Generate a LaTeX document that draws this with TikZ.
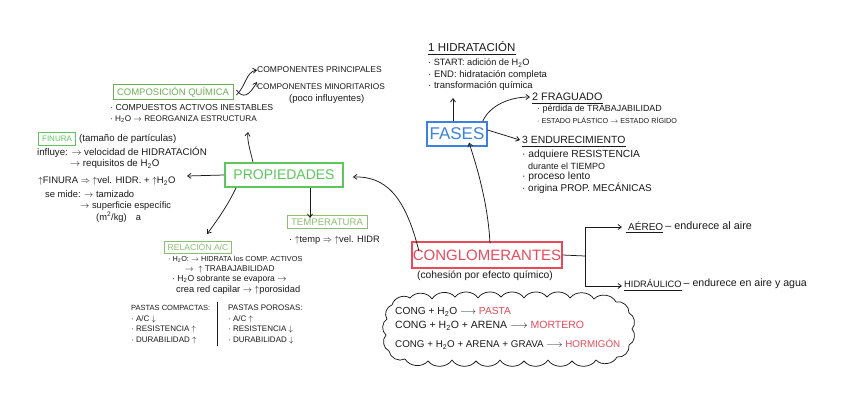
\documentclass[tikz,border=0pt]{standalone}
\usepackage{fontspec}
\setmainfont{Liberation Sans}
\usetikzlibrary{arrows.meta}
\definecolor{gA}{HTML}{6FAE55}
\definecolor{gB}{HTML}{5CC85C}
\definecolor{gC}{HTML}{8CBF72}
\definecolor{bA}{HTML}{3B82E0}
\definecolor{rA}{HTML}{E84A5A}
\definecolor{ink}{HTML}{1A1A1A}
\newcommand\fsz[1]{\fontsize{#1}{#1}\selectfont}
\tikzset{
  tx/.style={anchor=west,inner sep=0pt,text=ink},
  gbox/.style={draw=#1,text=#1,line width=0.9pt,inner sep=0pt,minimum height=13pt},
  arr/.style={-{Straight Barb[length=3.5pt,width=5pt]},line width=0.75pt,draw=ink},
  ln/.style={line width=0.75pt,draw=ink},
  puff/.style={bend left=55},
}
\begin{document}
\begin{tikzpicture}[x=1pt,y=-1pt]
\useasboundingbox[fill=white] (0,0) rectangle (848,402);

% ---- Composicion quimica
\node[gbox=gA,minimum width=120pt,minimum height=15pt,font=\fsz{9.5}] (comp) at (173,92) {COMPOSICIÓN QUÍMICA};
\node[tx,font=\fsz{8.5}] (cp1) at (257,70) {COMPONENTES PRINCIPALES};
\node[tx,font=\fsz{8.3}] (cp2) at (257,87) {COMPONENTES MINORITARIOS};
\node[tx,font=\fsz{9.5}] (cp3) at (289,99) {(poco influyentes)};
\draw[arr] ([xshift=3pt,yshift=-3pt]comp.east) .. controls (246,86) and (246,72) .. (cp1.west);
\draw[arr] ([xshift=3pt,yshift=2pt]comp.east) .. controls (243,99) and (249,96) .. ([yshift=5pt]cp2.west);
\node[tx,font=\fsz{8.7}] (cb1) at (110,108) {· COMPUESTOS ACTIVOS INESTABLES};
\node[tx,font=\fsz{8.2}] (cb2) at (110,119) {· H\textsubscript{2}O $\rightarrow$ REORGANIZA ESTRUCTURA};

% ---- Propiedades
\node[draw=gB,text=gB,line width=1.8pt,minimum width=118pt,minimum height=24pt,inner sep=0pt,font=\fsz{14}] (prop) at (284,175) {PROPIEDADES};
\coordinate (cbt) at (248,132);
\draw[arr] ([xshift=-31pt]prop.north) .. controls (250,150) and (247,140) .. (cbt);

% ---- Finura
\node[gbox=gB,minimum width=37pt,minimum height=13pt,font=\fsz{8}] (fin) at (57,139) {FINURA};
\node[tx,font=\fsz{9.7}] (f0) at (79,139) {(tamaño de partículas)};
\node[tx,font=\fsz{9.7}] (f1) at (37,152) {influye: $\rightarrow$ velocidad de HIDRATACIÓN};
\node[tx,font=\fsz{9.7}] (f2) at (70,164) {$\rightarrow$ requisitos de H\textsubscript{2}O};
\node[tx,font=\fsz{9.5}] (f3) at (38,181) {$\uparrow$FINURA $\Rightarrow$ $\uparrow$vel. HIDR. + $\uparrow$H\textsubscript{2}O};
\node[tx,font=\fsz{9.4}] (f4) at (45,194) {se mide: $\rightarrow$ tamizado};
\node[tx,font=\fsz{9.3}] (f5) at (80,206) {$\rightarrow$ superficie específic};
\node[tx,font=\fsz{9.3}] (f6) at (96,217) {(m\textsuperscript{2}/kg)\quad a};
\coordinate (fin_in) at (187,176);
\draw[arr] (prop.west) -- (fin_in);

% ---- Temperatura
\node[gbox=gC,minimum width=80pt,minimum height=13pt,font=\fsz{9.6}] (temp) at (327,222) {TEMPERATURA};
\draw[arr] ([xshift=26pt]prop.south) -- ([xshift=-17pt,yshift=-3pt]temp.north);
\node[tx,font=\fsz{9.3}] (t1) at (289,240) {· $\uparrow$temp $\Rightarrow$ $\uparrow$vel. HIDR};

% ---- Relacion A/C
\node[gbox=gC,minimum width=67pt,minimum height=12pt,font=\fsz{8.6}] (rel) at (198,247) {RELACIÓN A/C};
\coordinate (relin) at (207,234);
\draw[arr] ([xshift=-48pt]prop.south) .. controls (228,205) and (216,222) .. (relin);
\node[tx,font=\fsz{7.3}] (r1) at (168,259) {· H\textsubscript{2}O: $\rightarrow$ HIDRATA los COMP. ACTIVOS};
\node[tx,font=\fsz{8.3}] (r2) at (185,269.5) {$\rightarrow$\ \ $\uparrow$ TRABAJABILIDAD};
\node[tx,font=\fsz{8.6}] (r3) at (172,279.5) {· H\textsubscript{2}O sobrante se evapora $\rightarrow$};
\node[tx,font=\fsz{9.3}] (r4) at (176,290) {crea red capilar $\rightarrow$ $\uparrow$porosidad};

\node[tx,font=\fsz{7.5}] (pc0) at (131,308) {PASTAS COMPACTAS:};
\node[tx,font=\fsz{8}] (pc1) at (131,319) {· A/C $\downarrow$};
\node[tx,font=\fsz{8}] (pc2) at (131,329) {· RESISTENCIA $\uparrow$};
\node[tx,font=\fsz{8}] (pc3) at (131,340) {· DURABILIDAD $\uparrow$};
\node[tx,font=\fsz{8}] (pp0) at (228,308) {PASTAS POROSAS:};
\node[tx,font=\fsz{8}] (pp1) at (228,319) {· A/C $\uparrow$};
\node[tx,font=\fsz{8}] (pp2) at (228,329) {· RESISTENCIA $\downarrow$};
\node[tx,font=\fsz{8}] (pp3) at (228,340) {· DURABILIDAD $\downarrow$};
\coordinate (dv1) at (217,302);
\coordinate (dv2) at (217,346);
\draw[ln] (dv1) -- (dv2);

% ---- Fases
\node[draw=bA,text=bA,line width=1.2pt,minimum width=60pt,minimum height=24pt,inner sep=0pt,font=\fsz{17}] (fases) at (457,134) {FASES};
\node[tx,font=\fsz{11.5}] (h1) at (428,47) {1 HIDRATACIÓN};
\draw[ln] ([yshift=-2pt]h1.south west) -- ([yshift=-2pt]h1.south east);
\node[tx,font=\fsz{9.2}] (h1a) at (428,63) {· START: adición de H\textsubscript{2}O};
\node[tx,font=\fsz{9.5}] (h1b) at (428,75) {· END: hidratación completa};
\node[tx,font=\fsz{9.5}] (h1c) at (428,86) {· transformación química};
\coordinate (h1in) at (453,98);
\draw[arr] ([xshift=-4pt]fases.north) -- (h1in);

\node[tx,font=\fsz{10.8}] (h2) at (532,97) {2 FRAGUADO};
\draw[ln] ([yshift=-2pt]h2.south west) -- ([yshift=-2pt]h2.south east);
\node[tx,font=\fsz{8.9}] (h2a) at (537,109) {· pérdida de TRABAJABILIDAD};
\node[tx,font=\fsz{7.2}] (h2b) at (537,120) {· ESTADO PLÁSTICO $\rightarrow$ ESTADO RÍGIDO};
\draw[arr] ([xshift=-5pt]fases.north east) .. controls (490,105) and (510,97) .. ([xshift=-2pt]h2.west);

\node[tx,font=\fsz{10.4}] (h3) at (522,140) {3 ENDURECIMIENTO};
\draw[ln] ([yshift=-2pt]h3.south west) -- ([yshift=-2pt]h3.south east);
\node[tx,font=\fsz{10.3}] (h3a) at (522,155) {· adquiere RESISTENCIA};
\node[tx,font=\fsz{9}] (h3b) at (528,166) {durante el TIEMPO};
\node[tx,font=\fsz{10.3}] (h3c) at (522,177) {· proceso lento};
\node[tx,font=\fsz{9.9}] (h3d) at (522,188) {· origina PROP. MECÁNICAS};
\draw[arr] ([yshift=4pt]fases.east) -- ([xshift=-2pt]h3.west);

% ---- Conglomerantes
\node[draw=rA,text=rA,line width=1.2pt,minimum width=150pt,minimum height=26pt,inner sep=0pt,font=\fsz{15}] (cong) at (487,255) {CONGLOMERANTES};
\node[inner sep=0pt,text=ink,font=\fsz{10.3}] (cong2) at (485,276) {(cohesión por efecto químico)};
\draw[arr] ([xshift=-68pt,yshift=-10pt]cong.north) .. controls (405,195) and (385,176) .. ([xshift=9pt,yshift=-2pt]prop.east);
\draw[arr] ([xshift=3pt,yshift=-2pt]cong.north) .. controls (488,205) and (478,170) .. ([xshift=12pt,yshift=4pt]fases.south);

% ---- Bracket
\coordinate (bj) at (585,256);
\coordinate (bt) at (585,227);
\coordinate (bb) at (585,286);
\node[tx,font=\fsz{10}] (aer) at (628,226) {AÉREO};
\node[tx,font=\fsz{10.8}] (aer2) at (aer.east) {\,– endurece al aire};
\draw[ln] ([yshift=-2pt,xshift=-2pt]aer.south west) -- ([yshift=-2pt]aer.south east);
\node[tx,font=\fsz{9.3}] (hid) at (624,284) {HIDRÁULICO};
\node[tx,font=\fsz{10.6}] (hid2) at (hid.east) {\,– endurece en aire y agua};
\draw[ln] ([yshift=-2pt]hid.south west) -- ([yshift=-2pt]hid.south east);
\draw[ln] (cong.east) -- (bj);
\draw[ln] (bt) -- (bb);
\draw[arr] (bt) -- ([xshift=-6pt]aer.west |- bt);
\draw[arr] (bb) -- ([xshift=-2pt]hid.west |- bb);

% ---- Cloud (drawn directly, normal y orientation)
\begin{scope}[y=1pt]
\draw[ln,line join=round] (392,-305) to[puff] (410,-298) to[puff] (432,-299) to[puff] (455,-297)
  to[puff] (478,-298) to[puff] (501,-297) to[puff] (524,-298) to[puff] (547,-297)
  to[puff] (570,-298) to[puff] (594,-299) to[puff] (616,-302) to[puff] (629,-313)
  to[puff] (632,-329) to[puff] (629,-345) to[puff] (617,-357) to[puff] (596,-360)
  to[puff] (572,-361) to[puff] (548,-360) to[puff] (524,-361) to[puff] (500,-360)
  to[puff] (476,-361) to[puff] (452,-360) to[puff] (428,-361) to[puff] (405,-359)
  to[puff] (389,-351) to[puff] (386,-335) to[puff] (387,-319) to[puff] (392,-305);
\end{scope}
\node[tx,font=\fsz{10.2}] (c1) at (395,312) {CONG + H\textsubscript{2}O $\longrightarrow$ \textcolor{rA}{PASTA}};
\node[tx,font=\fsz{10.5}] (c2) at (395,326) {CONG + H\textsubscript{2}O + ARENA $\longrightarrow$ \textcolor{rA}{MORTERO}};
\node[tx,font=\fsz{9.8}] (c3) at (395,344) {CONG + H\textsubscript{2}O + ARENA + GRAVA $\longrightarrow$ \textcolor{rA}{HORMIGÓN}};
\end{tikzpicture}
\end{document}
